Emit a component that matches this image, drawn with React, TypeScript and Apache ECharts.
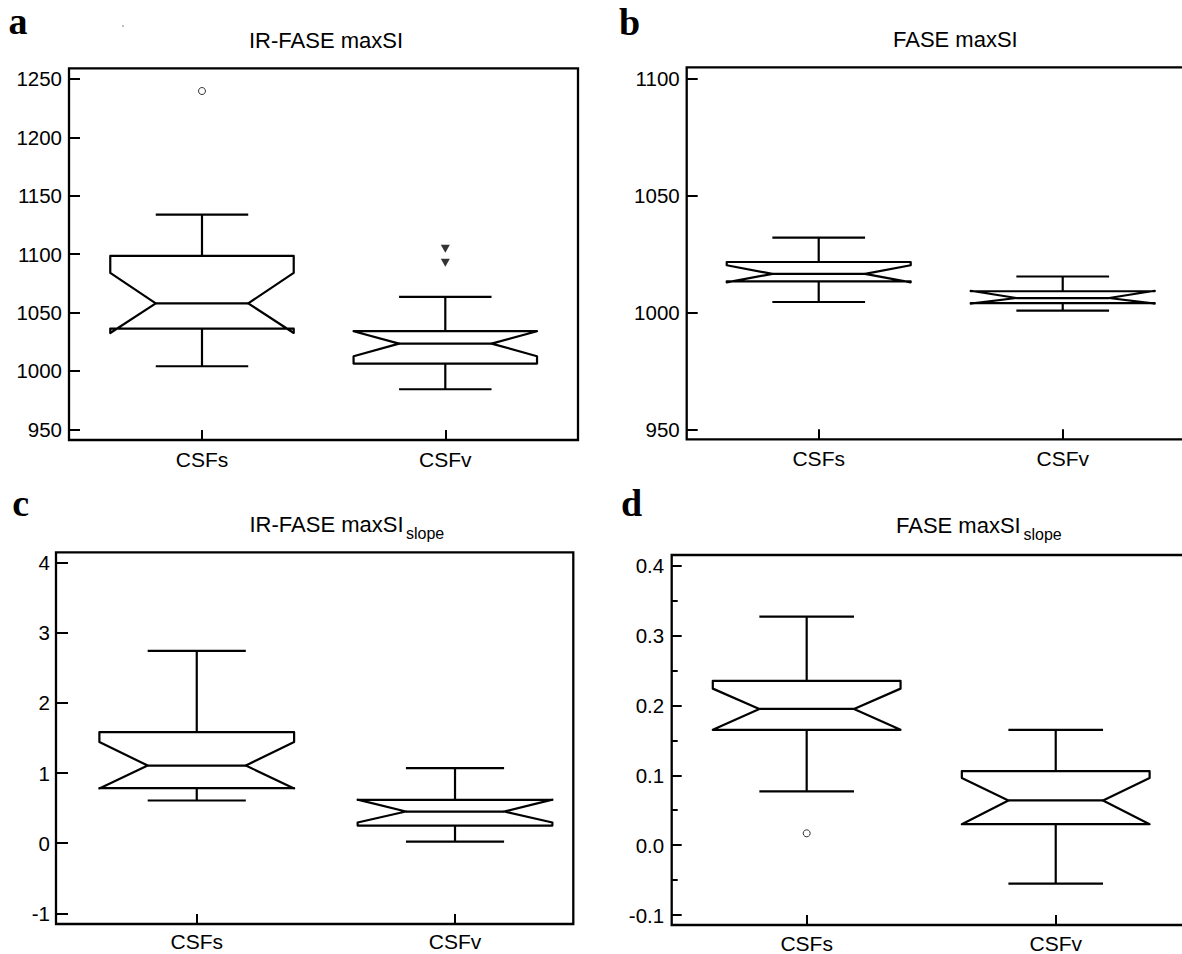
import React, { useEffect, useRef } from 'react';
import * as echarts from 'echarts';

const categories = ['CSFs', 'CSFv'];

// Panel a — IR-FASE maxSI
const aLowerWhisker = [1004.0, 984.3];
const aQ1 = [1036.2, 1006.3];
const aNotchLow = [1032.5, 1012.6];
const aMedian = [1057.9, 1023.4];
const aNotchHigh = [1083.9, 1034.0];
const aQ3 = [1098.5, 1034.0];
const aUpperWhisker = [1133.8, 1063.4];
const aCircleOutliers = [[0, 1239.7]];
const aTriangleOutliers = [[1, 1104.6], [1, 1092.6]];
const aTicks = [950, 1000, 1050, 1100, 1150, 1200, 1250];

// Panel b — FASE maxSI
const bLowerWhisker = [1004.4, 1000.7];
const bQ1 = [1013.2, 1003.9];
const bNotchLow = [1012.8, 1003.7];
const bMedian = [1016.4, 1006.1];
const bNotchHigh = [1020.1, 1009.2];
const bQ3 = [1021.5, 1009.0];
const bUpperWhisker = [1031.9, 1015.3];
const bTicks = [950, 1000, 1050, 1100];

// Panel c — IR-FASE maxSI slope
const cLowerWhisker = [0.608, 0.023];
const cQ1 = [0.785, 0.251];
const cNotchLow = [0.78, 0.294];
const cMedian = [1.107, 0.451];
const cNotchHigh = [1.441, 0.62];
const cQ3 = [1.583, 0.617];
const cUpperWhisker = [2.743, 1.07];
const cTicks = [-1, 0, 1, 2, 3, 4];

// Panel d — FASE maxSI slope
const dLowerWhisker = [0.077, -0.055];
const dQ1 = [0.165, 0.030];
const dNotchLow = [0.165, 0.030];
const dMedian = [0.195, 0.064];
const dNotchHigh = [0.224, 0.096];
const dQ3 = [0.235, 0.106];
const dUpperWhisker = [0.327, 0.165];
const dCircleOutliers = [[0, 0.017]];
const dTicks = [-0.1, 0.0, 0.1, 0.2, 0.3, 0.4];
const dMinorTicks = [-0.05, 0.05, 0.15, 0.25, 0.35];

const FONT = '"Liberation Sans", Arial, Helvetica, sans-serif';
const SERIF = '"Liberation Serif", "Times New Roman", serif';

function boxRows(lw: number[], q1: number[], nlo: number[], med: number[], nhi: number[], q3: number[], uw: number[]) {
  return categories.map((_, i) => [i, lw[i], q1[i], nlo[i], med[i], nhi[i], q3[i], uw[i]]);
}

const BOX_HALF = 0.377;
const NOTCH_HALF = 0.19;
const CAP_HALF = 0.19;

const panels = [
  {
    rows: boxRows(aLowerWhisker, aQ1, aNotchLow, aMedian, aNotchHigh, aQ3, aUpperWhisker),
    ticks: aTicks, decimals: 0,
    left: 69, top: 68.3, width: 509, height: 371.7,
    xMin: -0.5466, xMax: 1.5454, yMin: 940.84, yMax: 1259.16,
    yLabelMargin: 7, xLabelMargin: 9, yTickLen: 11,
  },
  {
    rows: boxRows(bLowerWhisker, bQ1, bNotchLow, bMedian, bNotchHigh, bQ3, bUpperWhisker),
    ticks: bTicks, decimals: 0,
    left: 686.7, top: 67.3, width: 509, height: 372,
    xMin: -0.541, xMax: 1.545, yMin: 945.73, yMax: 1104.7,
    yLabelMargin: 7, xLabelMargin: 9, yTickLen: 11,
  },
  {
    rows: boxRows(cLowerWhisker, cQ1, cNotchLow, cMedian, cNotchHigh, cQ3, cUpperWhisker),
    ticks: cTicks, decimals: 0,
    left: 56, top: 552.3, width: 517.3, height: 371.7,
    xMin: -0.545, xMax: 1.458, yMin: -1.153, yMax: 4.148,
    yLabelMargin: 6, xLabelMargin: 7, yTickLen: 12,
  },
  {
    rows: boxRows(dLowerWhisker, dQ1, dNotchLow, dMedian, dNotchHigh, dQ3, dUpperWhisker),
    ticks: dTicks, decimals: 1,
    left: 671.7, top: 555, width: 519, height: 371.7,
    xMin: -0.542, xMax: 1.542, yMin: -0.1142, yMax: 0.4152,
    yLabelMargin: 7.5, xLabelMargin: 8, yTickLen: 10,
  },
];

const LINE = { stroke: '#000', lineWidth: 2.2, fill: 'none', lineJoin: 'round' as const };

function renderNotchedBox(_params: any, api: any) {
  const x = api.value(0);
  const lw = api.value(1);
  const q1 = api.value(2);
  const nlo = api.value(3);
  const med = api.value(4);
  const nhi = api.value(5);
  const q3 = api.value(6);
  const uw = api.value(7);
  const P = (dx: number, v: number) => api.coord([x + dx, v]);
  const pts = [
    P(-BOX_HALF, q3), P(-BOX_HALF, nhi), P(-NOTCH_HALF, med), P(-BOX_HALF, nlo), P(-BOX_HALF, q1),
    P(BOX_HALF, q1), P(BOX_HALF, nlo), P(NOTCH_HALF, med), P(BOX_HALF, nhi), P(BOX_HALF, q3),
  ];
  const seg = (a: number[], b: number[]) => ({
    type: 'line',
    shape: { x1: a[0], y1: a[1], x2: b[0], y2: b[1] },
    style: { stroke: '#000', lineWidth: 2.2 },
  });
  return {
    type: 'group',
    children: [
      { type: 'polygon', shape: { points: pts }, style: LINE },
      seg(P(-NOTCH_HALF, med), P(NOTCH_HALF, med)),
      seg(P(0, q3), P(0, uw)),
      seg(P(-CAP_HALF, uw), P(CAP_HALF, uw)),
      seg(P(0, q1), P(0, lw)),
      seg(P(-CAP_HALF, lw), P(CAP_HALF, lw)),
    ],
  };
}

function buildOption() {
  const grid = panels.map((p) => ({
    left: p.left, top: p.top, width: p.width, height: p.height,
    show: true, borderColor: '#000', borderWidth: 2.3, backgroundColor: 'transparent',
  }));
  const xAxis = panels.map((p, i) => ({
    type: 'value', gridIndex: i, min: p.xMin, max: p.xMax, position: 'bottom',
    axisLine: { show: false, onZero: false }, splitLine: { show: false },
    axisTick: { show: true, inside: true, length: 10, customValues: [0, 1], lineStyle: { color: '#000', width: 2 } },
    axisLabel: {
      show: true, customValues: [0, 1], margin: p.xLabelMargin,
      formatter: (v: number) => categories[Math.round(v)] ?? '',
      color: '#000', fontSize: 21, fontFamily: FONT,
    },
  }));
  const yAxis: any[] = panels.map((p, i) => ({
    type: 'value', gridIndex: i, min: p.yMin, max: p.yMax, position: 'left',
    axisLine: { show: false, onZero: false }, splitLine: { show: false },
    axisTick: { show: true, inside: true, length: p.yTickLen, customValues: p.ticks, lineStyle: { color: '#000', width: 2 } },
    axisLabel: {
      show: true, customValues: p.ticks, margin: p.yLabelMargin,
      formatter: (v: number) => v.toFixed(p.decimals),
      color: '#000', fontSize: 20.5, fontFamily: FONT,
    },
  }));
  yAxis.push({
    type: 'value', gridIndex: 3, min: panels[3].yMin, max: panels[3].yMax, position: 'left', offset: 0,
    axisLine: { show: false, onZero: false }, splitLine: { show: false },
    axisTick: { show: true, inside: true, length: 6, customValues: dMinorTicks, lineStyle: { color: '#000', width: 2 } },
    axisLabel: { show: false },
  });

  const series: any[] = panels.map((p, i) => ({
    type: 'custom', xAxisIndex: i, yAxisIndex: i,
    renderItem: renderNotchedBox,
    encode: { x: 0, y: [1, 2, 3, 4, 5, 6, 7] },
    data: p.rows,
    silent: true,
  }));
  series.push({
    type: 'scatter', xAxisIndex: 0, yAxisIndex: 0, data: aCircleOutliers,
    symbol: 'circle', symbolSize: 7,
    itemStyle: { color: '#fff', borderColor: '#000', borderWidth: 1 }, silent: true,
  });
  series.push({
    type: 'scatter', xAxisIndex: 0, yAxisIndex: 0, data: aTriangleOutliers,
    symbol: 'triangle', symbolRotate: 180, symbolSize: [9, 8],
    itemStyle: { color: '#000' }, silent: true,
  });
  series.push({
    type: 'scatter', xAxisIndex: 3, yAxisIndex: 3, data: dCircleOutliers,
    symbol: 'circle', symbolSize: 7,
    itemStyle: { color: '#fff', borderColor: '#000', borderWidth: 1 }, silent: true,
  });

  const titleText = (x: number, y: number, text: string, size: number) => ({
    type: 'text', x, y, silent: true,
    style: { text, fontSize: size, fontFamily: FONT, fill: '#000', align: 'left', verticalAlign: 'middle' },
  });
  const letter = (x: number, y: number, text: string) => ({
    type: 'text', x, y, silent: true,
    style: { text, fontSize: 38, fontWeight: 'bold', fontFamily: SERIF, fill: '#000', align: 'left', verticalAlign: 'middle' },
  });

  const graphic = [
    letter(8.5, 20.5, 'a'),
    letter(619, 22.2, 'b'),
    letter(12.3, 503.2, 'c'),
    letter(621, 503.2, 'd'),
    titleText(249, 40.8, 'IR-FASE maxSI', 22),
    titleText(893, 39.2, 'FASE maxSI', 22),
    titleText(249.5, 524.8, 'IR-FASE maxSI', 22),
    titleText(406, 533, 'slope', 16),
    titleText(896, 525.8, 'FASE maxSI', 22),
    titleText(1023.5, 534.5, 'slope', 16),
    { type: 'circle', shape: { cx: 123, cy: 26, r: 0.8 }, style: { fill: '#999' }, silent: true },
  ];

  return { animation: false, backgroundColor: '#fff', grid, xAxis, yAxis, series, graphic };
}

export default function App() {
  const ref = useRef<HTMLDivElement>(null);
  useEffect(() => {
    if (!ref.current) return;
    const chart = echarts.init(ref.current, undefined, { renderer: 'svg' });
    chart.setOption(buildOption() as any);
    return () => chart.dispose();
  }, []);
  return (
    <div style={{ position: 'absolute', left: 0, top: 0, width: 1182, height: 954, overflow: 'hidden', background: '#fff' }}>
      <div ref={ref} style={{ width: 1200, height: 954 }} />
    </div>
  );
}
